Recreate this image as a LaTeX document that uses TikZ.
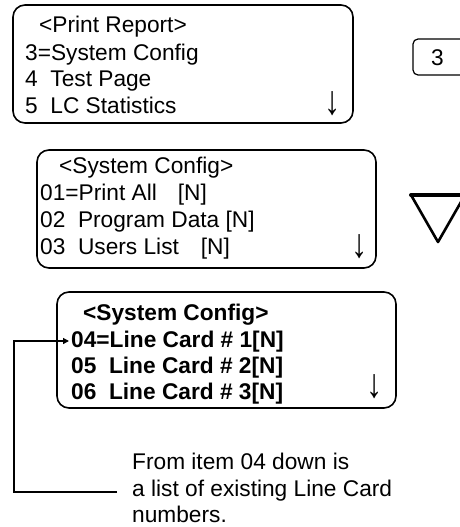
\documentclass[tikz,border=0pt]{standalone}
\usepackage{fontspec}
\setmainfont{Liberation Sans}
\usetikzlibrary{arrows.meta}
\begin{document}
\begin{tikzpicture}[x=1pt,y=-1pt,
  lcd/.style={draw=black, line width=1.6pt, rounded corners=12pt},
  ln/.style={anchor=base west, inner sep=0pt, font=\fontsize{22.7}{27}\selectfont},
  lnb/.style={ln, font=\fontsize{22.7}{27}\selectfont\bfseries},
  dn/.style={anchor=base, inner sep=0pt, font=\fontsize{22.7}{27}\selectfont},
  darr/.style={anchor=south, inner sep=0pt, font=\fontsize{24}{27}\selectfont},
  conn/.style={draw=black, line width=1.3pt}]
\useasboundingbox (0,0) rectangle (460,527);
\clip (0,0) rectangle (460,527);
% box 1
\draw[lcd] (13,5) rectangle (353,123);
\node[ln] (p0) at (39,33) {<Print Report>};
\node[ln] (p1) at (25,60) {3=System Config};
\node[ln] (p2) at (25,86) {4~~Test Page};
\node[ln] (p3) at (25,113) {5~~LC Statistics};
\node[darr] (a1) at (333,116) {\scalebox{1.35}[1.7]{↓}};
% key 3
\draw[draw=black, line width=1.2pt, rounded corners=5pt] (413,39) rectangle (480,75);
\node[dn] (k3) at (437.5,66) {3};
% box 2
\draw[lcd] (37,150) rectangle (376,268);
\node[ln] (s0) at (59,173) {<System Config>};
\node[ln] (s1) at (40,200) {01=Print All\hspace{21pt}[N]};
\node[ln] (s2) at (40,227) {02~~Program Data [N]};
\node[ln] (s3) at (40,254) {03~~Users List\hspace{22pt}[N]};
\node[darr] (a2) at (360,259) {\scalebox{1.35}[1.7]{↓}};
% triangle
\draw[line width=2.6pt, line join=round] (411,195) -- (438,242) -- (465,195);
\draw[line width=4pt, line cap=round] (411,195) -- (470,195);
% box 3
\draw[lcd] (57,292) rectangle (396,408);
\node[lnb] (c0) at (83,320) {<System Config>};
\node[lnb] (c1) at (71,347) {04=Line Card \# 1[N]};
\node[lnb] (c2) at (71,373) {05~~Line Card \# 2[N]};
\node[lnb] (c3) at (71,399) {06~~Line Card \# 3[N]};
\node[darr] (a3) at (375,399) {\scalebox{1.35}[1.7]{↓}};
% caption
\node[ln] (t1) at (132,469) {From item 04 down is};
\node[ln] (t2) at (132,496) {a list of existing Line Card};
\node[ln] (t3) at (132,522) {numbers.};
% connector
\coordinate (q0) at (117,492);
\coordinate (q1) at (14,492);
\coordinate (q2) at (14,341);
\coordinate (q3) at (69,341);
\draw[conn, -{Triangle[length=6pt,width=6pt]}] (q0) -- (q1) -- (q2) -- (q3);
\end{tikzpicture}
\end{document}
